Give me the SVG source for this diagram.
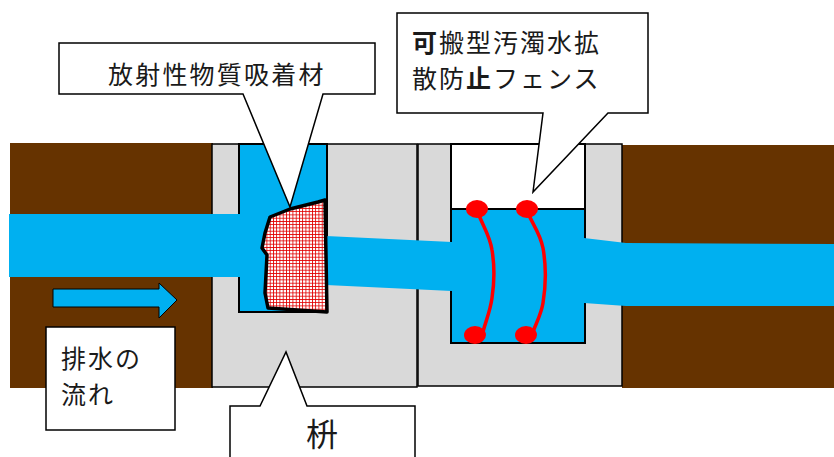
<svg xmlns="http://www.w3.org/2000/svg" width="834" height="457" viewBox="0 0 834 457">
  <style>
    .soil { fill: #663300; }
    .wall { fill: #d9d9d9; stroke: #000; stroke-width: 1.5; }
    .water { fill: #00b0f0; }
    .cavity { stroke: #000; stroke-width: 2; }
    .callout { fill: #fff; stroke: #000; stroke-width: 1.5; stroke-linejoin: miter; }
    .label { font-family: "Noto Sans CJK JP", "Noto Sans CJK SC", sans-serif; fill: #1a1a1a; }
    .fence { fill: none; stroke: #ff0000; stroke-width: 3.5; stroke-linecap: round; stroke-linejoin: round; }
    .anchor { fill: #ff0000; }
  </style>
  <defs>
    <pattern id="mesh" width="3.25" height="3.25" patternUnits="userSpaceOnUse">
      <rect width="3.25" height="3.25" fill="#fff"/>
      <path d="M0 0.4H3.25M0.4 0V3.25" stroke="#e00000" stroke-width="0.9"/>
    </pattern>
  </defs>

  <!-- ground around the drain pipes -->
  <g id="ground">
    <rect class="soil" x="10" y="143" width="203" height="245"/>
    <rect class="soil" x="622" y="145" width="212" height="243"/>
  </g>

  <!-- catch basin (left) -->
  <g id="basin">
    <rect class="wall" x="212" y="144" width="205" height="243"/>
    <rect class="water cavity" x="239" y="144" width="88" height="168"/>
  </g>

  <!-- fence chamber (right) -->
  <g id="chamber">
    <rect class="wall" x="418" y="144" width="204" height="242"/>
    <rect x="451" y="144" width="134" height="199" fill="#fff" class="cavity"/>
    <rect class="water cavity" x="451" y="209" width="134" height="134"/>
  </g>

  <!-- water flowing through pipes and walls -->
  <g id="water">
    <rect class="water" x="9" y="214" width="231" height="63"/>
    <polygon class="water" points="326,236 452,242 452,291 326,285"/>
    <polygon class="water" points="584,238 626,243 834,244 834,306 626,306 584,303"/>
  </g>

  <!-- adsorbent block -->
  <g id="adsorbent">
    <polygon points="270,217 290,209 318,202 325,200 327,312 268,308 265,293 267,255 262,248 265,233"
             fill="url(#mesh)" stroke="#000" stroke-width="3.5" stroke-linejoin="round"/>
  </g>

  <!-- silt fences -->
  <g id="fence">
    <path class="fence" d="M478,213 C484,228 490,236 492,250 C495,268 494,285 492,298 C490,312 486,320 483,332"/>
    <path class="fence" d="M528,213 C533,225 540,233 543,248 C546,265 546,285 543,303 C541,315 536,323 533,332"/>
    <ellipse class="anchor" cx="477" cy="209" rx="11" ry="9"/>
    <ellipse class="anchor" cx="527" cy="209" rx="11" ry="9"/>
    <ellipse class="anchor" cx="475" cy="335" rx="11" ry="9"/>
    <ellipse class="anchor" cx="526" cy="335" rx="11" ry="9"/>
  </g>

  <!-- flow direction arrow -->
  <g id="flow-arrow">
    <polygon points="53,289 159,289 159,283 177,300 159,318 159,307 53,307" fill="#00b0f0" stroke="#000" stroke-width="1"/>
  </g>

  <!-- callouts -->
  <g id="callout-adsorbent">
    <path class="callout" d="M59,43 H375 V94 H323 L290,207 L243,94 H59 Z"/>
    <text class="label" x="108" y="84" font-size="25" letter-spacing="2.2">放射性物質吸着材</text>
  </g>

  <g id="callout-fence">
    <path class="callout" d="M397,13 H648 V113 H608 L533,192 L543,113 H397 Z"/>
    <text class="label" x="412" y="52" font-size="25" letter-spacing="2"><tspan font-weight="bold">可</tspan>搬型汚濁水拡</text>
    <text class="label" x="412" y="88" font-size="25" letter-spacing="2">散防<tspan font-weight="bold">止</tspan>フェンス</text>
  </g>

  <g id="callout-flow">
    <rect class="callout" x="46" y="327" width="129" height="103"/>
    <text class="label" x="61" y="368" font-size="25" letter-spacing="2">排水の</text>
    <text class="label" x="61" y="404" font-size="25" letter-spacing="2">流れ</text>
  </g>

  <g id="callout-basin">
    <path class="callout" d="M230,460 V406 H260 L286,352 L307,406 H415 V460"/>
    <text class="label" x="306" y="446" font-size="32">枡</text>
  </g>
</svg>
